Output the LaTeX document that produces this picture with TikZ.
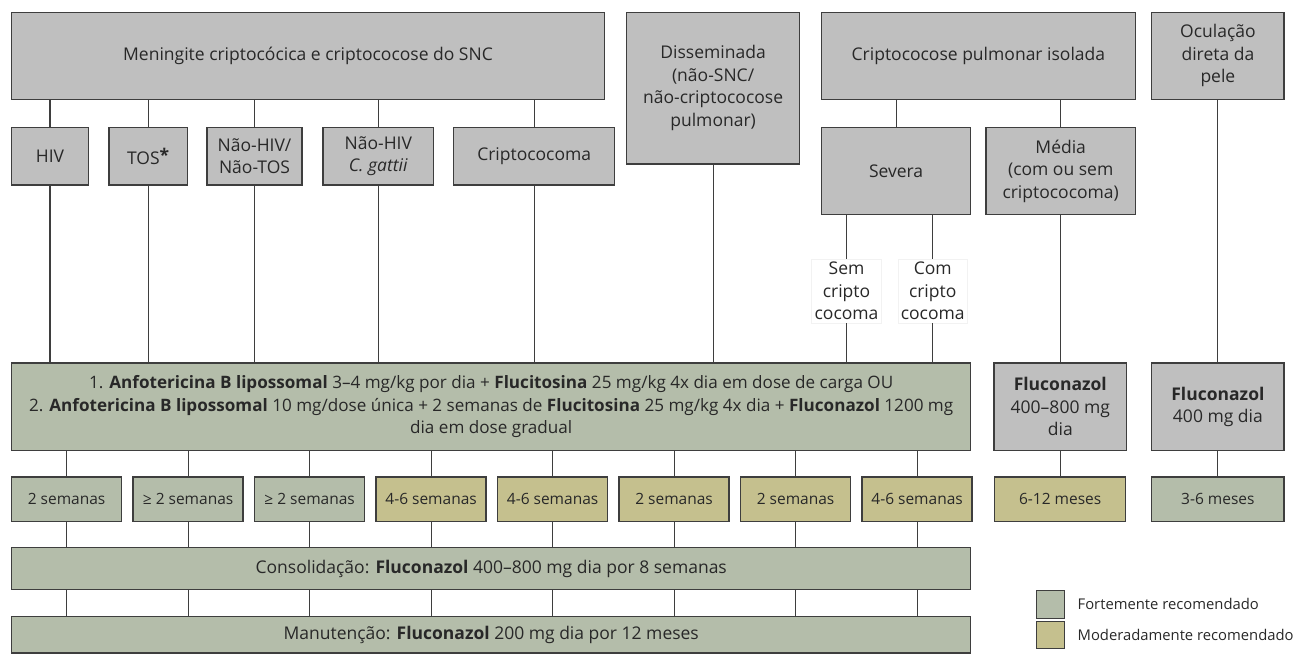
\documentclass[tikz,border=0pt]{standalone}
\usepackage{fontspec}
\setmainfont{Open Sans}
\usetikzlibrary{positioning}
\definecolor{boxgray}{RGB}{191,191,191}
\definecolor{strong}{RGB}{180,189,170}
\definecolor{moderate}{RGB}{197,192,142}
\definecolor{edge}{RGB}{62,62,62}
\definecolor{ink}{RGB}{40,40,40}

\begin{document}
\begin{tikzpicture}[x=1pt,y=-1pt,
  box/.style={draw=edge,line width=1.3pt,fill=boxgray,text=ink,align=center,inner sep=0pt,
    font=\fontsize{17.5}{22.5}\selectfont},
  strongbox/.style={box,fill=strong},
  modbox/.style={box,fill=moderate},
  dur/.style={minimum width=110,minimum height=44.7,font=\fontsize{15.5}{19}\selectfont},
  tag/.style={fill=white,draw=black!5,text=ink,align=center,inner sep=3pt,font=\fontsize{17.5}{22.5}\selectfont},
  link/.style={draw=edge,line width=1.1pt}]
\useasboundingbox (0,0) rectangle (1299,655);

% top row
\node[box,minimum width=592.9,minimum height=87] (men) at (308,55.8) {Meningite criptocócica e criptococose do SNC};
\node[box,minimum width=173.2,minimum height=151.7] (dis) at (713.1,88.2) {Disseminada\\(não-SNC/\\não-criptococose\\pulmonar)};
\node[box,minimum width=314,minimum height=87] (pul) at (978.4,55.8) {Criptococose pulmonar isolada};
\node[box,minimum width=132.2,minimum height=87] (ocu) at (1217.9,55.8) {Oculação\\direta da\\pele};

% second row
\node[box,minimum width=76.7,minimum height=57.3] (hiv) at (50,156.3) {HIV};
\node[box,minimum width=78.4,minimum height=57.3] (tos) at (148.2,156.3) {TOS\raisebox{.15em}{\textbf{*}}};
\node[box,minimum width=95,minimum height=57.3] (nhnt) at (254.5,156.3) {Não-HIV/\\Não-TOS};
\node[box,minimum width=110.7,minimum height=57.3] (nhcg) at (378.3,156.3) {Não-HIV\\\textit{C. gattii}};
\node[box,minimum width=161.2,minimum height=57.3] (crip) at (534.2,156.3) {Criptococoma};
\node[box,minimum width=149.4,minimum height=86.6] (sev) at (896.1,171) {Severa};
\node[box,minimum width=149.4,minimum height=86.6] (med) at (1060.7,171) {Média\\(com ou sem\\criptococoma)};

\node[tag] (sem) at (846.5,291) {Sem\\cripto\\cocoma};
\node[tag] (com) at (932.7,291) {Com\\cripto\\cocoma};

% induction
\node[strongbox,minimum width=959.1,minimum height=87.7,font=\fontsize{17.1}{22.5}\selectfont] (grn) at (491.2,406.9)
  {1. \textbf{Anfotericina B lipossomal} 3–4 mg/kg por dia + \textbf{Flucitosina} 25 mg/kg 4x dia em dose de carga OU\\
   2. \textbf{Anfotericina B lipossomal} 10 mg/dose única + 2 semanas de \textbf{Flucitosina} 25 mg/kg 4x dia + \textbf{Fluconazol} 1200 mg\\
   dia em dose gradual};
\node[box,minimum width=132.5,minimum height=87.7] (flA) at (1060.3,406.9) {\textbf{Fluconazol}\\400–800 mg\\dia};
\node[box,minimum width=132.2,minimum height=87.7] (flB) at (1217.9,406.9) {\textbf{Fluconazol}\\400 mg dia};

% durations
\node[strongbox,dur] (d1) at (66.6,499.4) {2 semanas};
\node[strongbox,dur] (d2) at (188.1,499.4) {≥ 2 semanas};
\node[strongbox,dur] (d3) at (309.6,499.4) {≥ 2 semanas};
\node[modbox,dur] (d4) at (431.1,499.4) {4-6 semanas};
\node[modbox,dur] (d5) at (552.6,499.4) {4-6 semanas};
\node[modbox,dur] (d6) at (674.1,499.4) {2 semanas};
\node[modbox,dur] (d7) at (795.6,499.4) {2 semanas};
\node[modbox,dur] (d8) at (917.1,499.4) {4-6 semanas};
\node[modbox,dur,minimum width=131.2] (m612) at (1060.2,499.4) {6-12 meses};
\node[strongbox,dur,minimum width=132.2] (m36) at (1217.9,499.4) {3-6 meses};

\node[strongbox,minimum width=959.1,minimum height=41.6] (con) at (491.2,568.5) {Consolidação: \textbf{Fluconazol} 400–800 mg dia por 8 semanas};
\node[strongbox,minimum width=959.1,minimum height=36.3] (man) at (491.2,634.9) {Manutenção: \textbf{Fluconazol} 200 mg dia por 12 meses};

% legend
\node[strongbox,line width=1pt,minimum width=28.5,minimum height=27.5] (lgS) at (1050.7,604.3) {};
\node[modbox,line width=1pt,minimum width=28.5,minimum height=27.5] (lgM) at (1050.7,634.8) {};
\node[right=12pt of lgS,inner sep=0pt,text=ink,font=\fontsize{14.8}{18}\selectfont] (lgSt) {Fortemente recomendado};
\node[right=12pt of lgM,inner sep=0pt,text=ink,font=\fontsize{14.8}{18}\selectfont] (lgMt) {Moderadamente recomendado};

% connectors
\foreach \n in {hiv,tos,nhnt,nhcg,crip} {
  \draw[link] (men.south -| \n) -- (\n.north);
  \draw[link] (\n.south) -- (\n |- grn.north);
}
\draw[link] (sev.north) -- (sev.north |- pul.south);
\draw[link] (med.north) -- (med.north |- pul.south);
\draw[link] (dis.south) -- (dis |- grn.north);
\draw[link] (sem |- sev.south) -- (sem.north);
\draw[link] (sem.south) -- (sem |- grn.north);
\draw[link] (com |- sev.south) -- (com.north);
\draw[link] (com.south) -- (com |- grn.north);
\draw[link] (med.south -| flA) -- (flA.north);
\draw[link] (ocu.south) -- (ocu |- flB.north);
\draw[link] (flA.south) -- (flA.south |- m612.north);
\draw[link] (flB.south) -- (m36.north);
\foreach \i in {1,...,8} {
  \draw[link] (grn.south -| d\i) -- (d\i.north);
  \draw[link] (d\i.south) -- (d\i |- con.north);
  \draw[link] (con.south -| d\i) -- (d\i |- man.north);
}
\end{tikzpicture}
\end{document}
